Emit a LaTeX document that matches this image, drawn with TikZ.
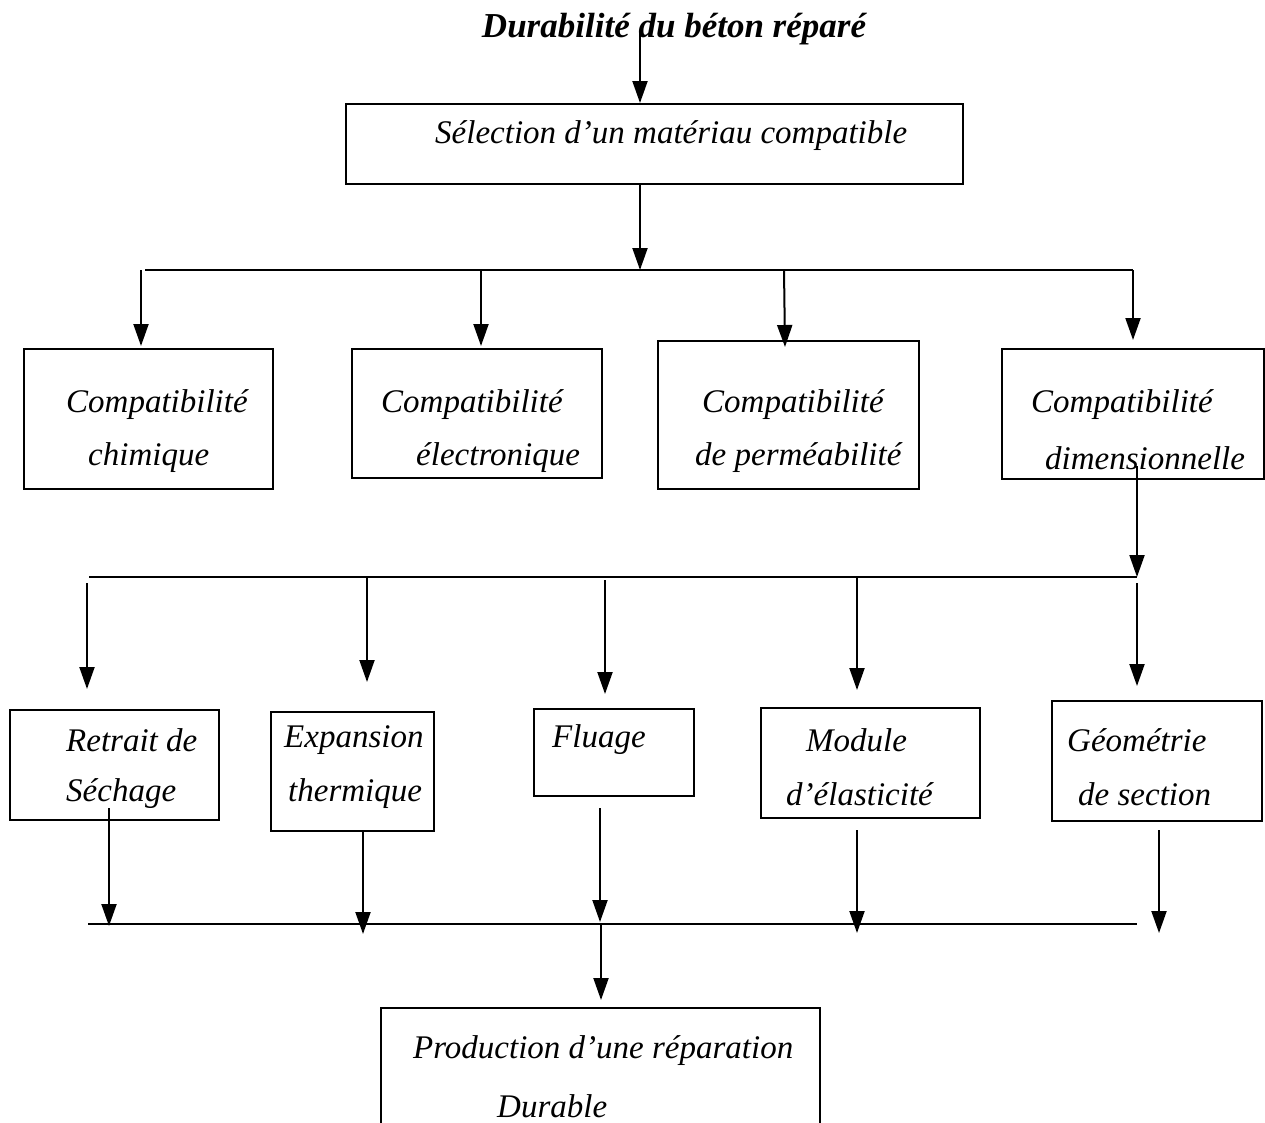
\documentclass[tikz,border=0pt]{standalone}
\usepackage{fontspec}
\setmainfont{Liberation Serif}
\usetikzlibrary{arrows.meta}
\begin{document}
\begin{tikzpicture}[x=1pt,y=-1pt,
  ln/.style={line width=2pt},
  arr/.style={line width=2pt,-{Triangle[length=22pt,width=15pt]}},
  box/.style={draw,line width=2pt,inner sep=0pt,anchor=north west},
  txt/.style={font=\fontsize{33}{38}\selectfont\itshape,anchor=west,inner sep=0pt,yshift=-3pt},
  ttl/.style={font=\fontsize{35}{40}\selectfont\bfseries\itshape,inner sep=0pt}]
\useasboundingbox (0,0) rectangle (1265,1122);
% title
\node[ttl] (title) at (674,29) {Durabilité du béton réparé};
\coordinate (t0) at (640,32);
% box 1
\node[box,minimum width=617pt,minimum height=80pt] (sel) at (345,103) {};
\node[txt] (selt) at (435,133) {Sélection d’un matériau compatible};
\draw[arr] (t0) -- (640,103);
\coordinate (b1) at (640,270);
\draw[arr] (640,183) -- (b1);
\coordinate (b1l) at (145,270);
\coordinate (b1r) at (1133,270);
\draw[ln] (b1l) -- (b1r);
% row 1 boxes
\node[box,minimum width=249pt,minimum height=140pt] (chi) at (23,348) {};
\node[txt] (chi1) at (66,402) {Compatibilité};
\node[txt] (chi2) at (88,455) {chimique};
\node[box,minimum width=250pt,minimum height=129pt] (ele) at (351,348) {};
\node[txt] (ele1) at (381,402) {Compatibilité};
\node[txt] (ele2) at (416,455) {électronique};
\node[box,minimum width=261pt,minimum height=148pt] (per) at (657,340) {};
\node[txt] (per1) at (702,402) {Compatibilité};
\node[txt] (per2) at (695,455) {de perméabilité};
\node[box,minimum width=262pt,minimum height=130pt] (dim) at (1001,348) {};
\node[txt] (dim1) at (1031,402) {Compatibilité};
\node[txt] (dim2) at (1045,455) {dimensionnelle};
\draw[arr] (141,270) -- (141,346);
\draw[arr] (481,270) -- (481,346);
\draw[arr] (784,270) -- (785,347);
\draw[arr] (1133,270) -- (1133,340);
% to bus 2
\coordinate (b2) at (1137,577);
\draw[arr] (1137,466) -- (b2);
\draw[ln] (89,577) -- (b2);
% row 2 boxes
\node[box,minimum width=209pt,minimum height=110pt] (ret) at (9,709) {};
\node[txt] (ret1) at (66,737) {Retrait de};
\node[txt] (ret2) at (66,791) {Séchage};
\node[box,minimum width=163pt,minimum height=119pt] (exp) at (270,711) {};
\node[txt] (exp1) at (284,737) {Expansion};
\node[txt] (exp2) at (288,791) {thermique};
\node[box,minimum width=160pt,minimum height=87pt] (flu) at (533,708) {};
\node[txt] (flu1) at (552,737) {Fluage};
\node[box,minimum width=219pt,minimum height=110pt] (mod) at (760,707) {};
\node[txt] (mod1) at (806,737) {Module};
\node[txt] (mod2) at (786,791) {d’élasticité};
\node[box,minimum width=210pt,minimum height=120pt] (geo) at (1051,700) {};
\node[txt] (geo1) at (1067,737) {Géométrie};
\node[txt] (geo2) at (1078,791) {de section};
\draw[arr] (87,583) -- (87,689);
\draw[arr] (367,577) -- (367,682);
\draw[arr] (605,580) -- (605,694);
\draw[arr] (857,577) -- (857,690);
\draw[arr] (1137,583) -- (1137,686);
% to bus 3
\draw[arr] (109,808) -- (109,926);
\draw[arr] (363,830) -- (363,934);
\draw[arr] (600,808) -- (600,922);
\draw[arr] (857,830) -- (857,933);
\draw[arr] (1159,830) -- (1159,933);
\coordinate (b3l) at (88,924);
\coordinate (b3r) at (1137,924);
\draw[ln] (b3l) -- (b3r);
% final box
\node[box,minimum width=439pt,minimum height=125pt] (pro) at (380,1007) {};
\node[txt] (pro1) at (413,1048) {Production d’une réparation};
\node[txt] (pro2) at (497,1103) {Durable};
\draw[arr] (601,924) -- (601,1000);
\end{tikzpicture}
\end{document}
